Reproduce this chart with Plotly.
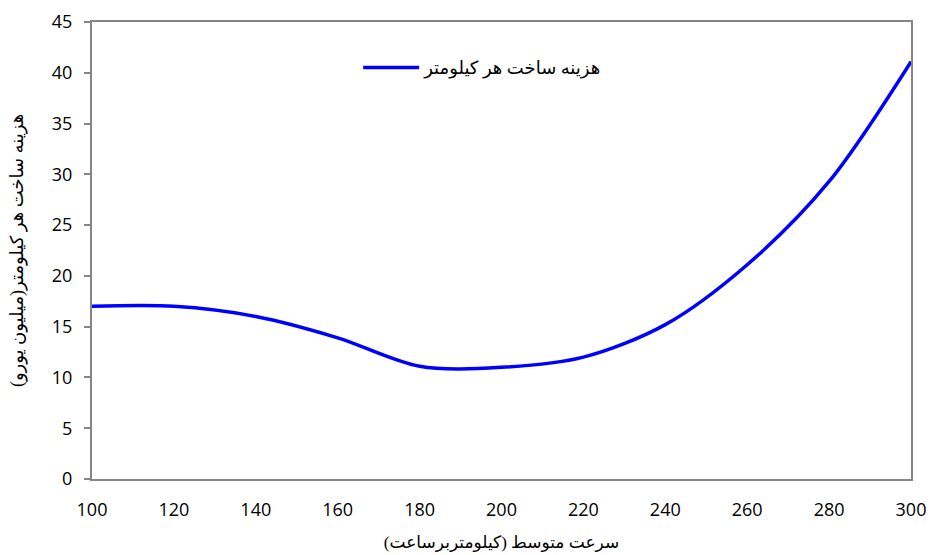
import plotly.graph_objects as go

speed = [100, 120, 140, 160, 180, 200, 220, 240, 260, 280, 300]
cost = [17.0, 17.0, 16.0, 13.9, 11.1, 11.0, 12.0, 15.2, 21.1, 29.3, 41.1]
series_name = "هزینه ساخت هر کیلومتر"
x_title = "سرعت متوسط (کیلومتربرساعت)"
y_title = "هزینه ساخت هر کیلومتر(میلیون یورو)"

ar_font = "Times New Roman, Liberation Serif, DejaVu Sans, serif"
tick_font = dict(family="Open Sans, Liberation Sans, sans-serif", size=18, color="#000000")

fig = go.Figure()
fig.add_trace(go.Scatter(
    x=speed, y=cost, mode="lines", name=series_name,
    line=dict(color="#0000FF", width=3.5, shape="spline", smoothing=0.9),
    showlegend=True,
))

fig.update_layout(
    width=931, height=555,
    paper_bgcolor="white", plot_bgcolor="white",
    margin=dict(l=92, r=20, t=22, b=76, autoexpand=False),
    showlegend=True,
    legend=dict(x=0.477, y=0.9, xanchor="center", yanchor="middle",
                font=dict(family=ar_font, size=18, color="#000000"),
                bgcolor="rgba(0,0,0,0)", itemwidth=56),
    xaxis=dict(range=[100, 300], tickvals=list(range(100, 301, 20)),
               showline=True, linecolor="#868686", linewidth=2, mirror=True,
               showgrid=False, zeroline=False, ticks="", tickfont=tick_font,
               ticklabelstandoff=13,
               title=dict(text=x_title, font=dict(family=ar_font, size=17, color="#000000"), standoff=17)),
    yaxis=dict(range=[0, 45], tickvals=list(range(0, 46, 5)),
               showline=True, linecolor="#868686", linewidth=2, mirror=True,
               showgrid=False, zeroline=False, ticks="outside", ticklen=6, tickcolor="#868686",
               tickwidth=1.5, tickfont=tick_font, ticklabelstandoff=8,
               title=dict(text=y_title, font=dict(family=ar_font, size=18, color="#000000"), standoff=24)),
)

fig.write_html("out.html", config={"displayModeBar": False},
               post_script="document.body.style.margin='0';document.body.style.padding='0';")
